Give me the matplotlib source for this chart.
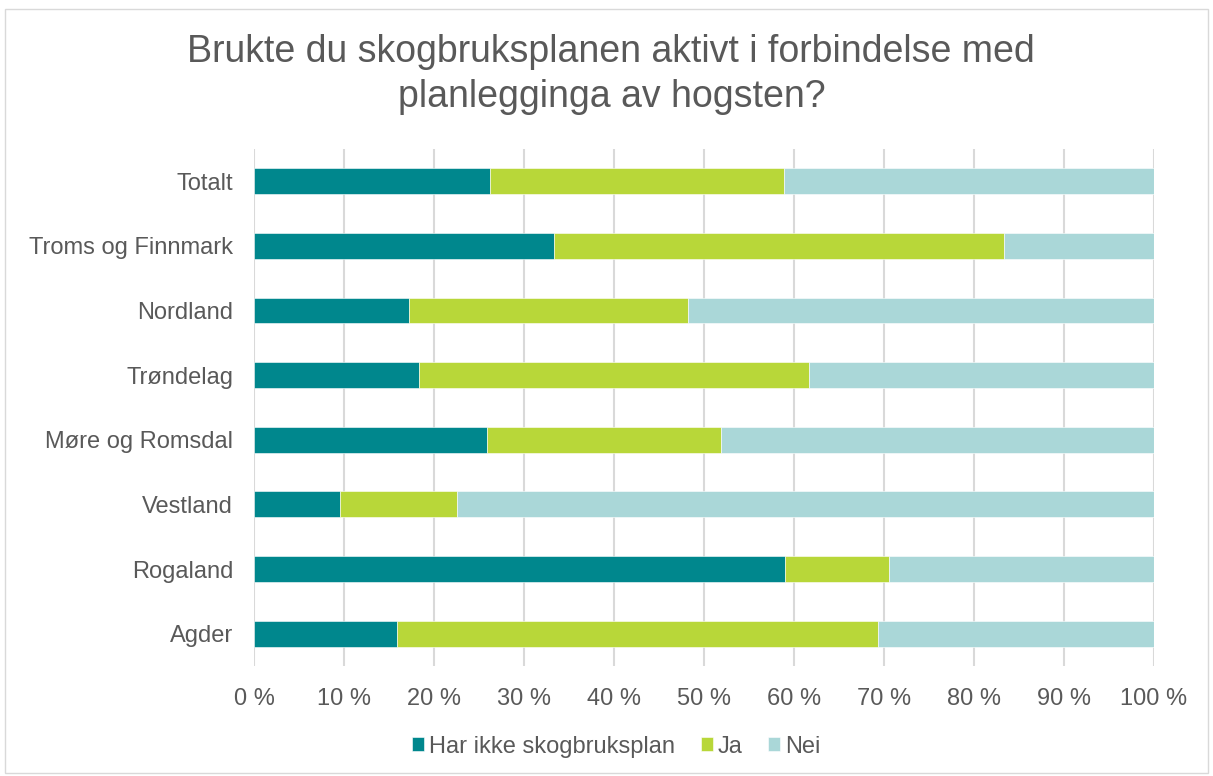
import matplotlib.pyplot as plt
from matplotlib.patches import Rectangle
from matplotlib.ticker import FuncFormatter
import numpy as np

plt.rcParams['font.family'] = ['Liberation Sans', 'DejaVu Sans']

# data ----------------------------------------------------------------------
regions = ['Totalt', 'Troms og Finnmark', 'Nordland', 'Trøndelag',
           'Møre og Romsdal', 'Vestland', 'Rogaland', 'Agder']
har_ikke = [26.2, 33.3, 17.2, 18.3, 25.9, 9.6, 59.0, 15.9]
ja = [32.7, 50.0, 31.0, 43.4, 26.0, 12.9, 11.5, 53.4]
nei = [41.1, 16.7, 51.8, 38.3, 48.1, 77.5, 29.5, 30.7]
series_names = ['Har ikke skogbruksplan', 'Ja', 'Nei']
colors = ['#00878D', '#B8D739', '#AAD7D8']
tick_vals = list(range(0, 101, 10))

grey = '#595959'

fig = plt.figure(figsize=(12.13, 7.76), dpi=100)
ax = fig.add_axes([0.2094, 0.1418, 0.742, 0.6662])

y = np.arange(len(regions))
left = np.zeros(len(regions))
for vals, name, c in zip([har_ikke, ja, nei], series_names, colors):
    ax.barh(y, vals, left=left, height=0.4, color=c, label=name,
            edgecolor='white', linewidth=0.4, zorder=3)
    left += np.array(vals)

ax.set_ylim(len(regions) - 0.5, -0.5)
ax.set_xlim(0, 100)
ax.set_yticks(y)
ax.set_yticklabels(regions, fontsize=17, color=grey)
ax.set_xticks(tick_vals)
ax.xaxis.set_major_formatter(FuncFormatter(lambda v, p: f'{int(v)} %'))
ax.tick_params(axis='x', labelsize=17, labelcolor=grey, length=0, pad=16)
ax.tick_params(axis='y', length=0, pad=15)
ax.grid(axis='x', color='#D9D9D9', linewidth=1.5, zorder=0)
for s in ax.spines.values():
    s.set_visible(False)

fig.text(0.504, 0.904, 'Brukte du skogbruksplanen aktivt i forbindelse med\nplanlegginga av hogsten?',
         ha='center', va='center', fontsize=27, color=grey, linespacing=1.3)

fig.legend(loc='center', bbox_to_anchor=(0.508, 0.038), ncol=3,
           frameon=False, fontsize=17, labelcolor=grey, handlelength=0.5,
           handleheight=0.5, handletextpad=0.2, columnspacing=1.1)

fig.patches.append(Rectangle((0.004, 0.004), 0.992, 0.984, transform=fig.transFigure,
                             fill=False, edgecolor='#D9D9D9', linewidth=1))

fig.savefig('out.png', dpi=100)
